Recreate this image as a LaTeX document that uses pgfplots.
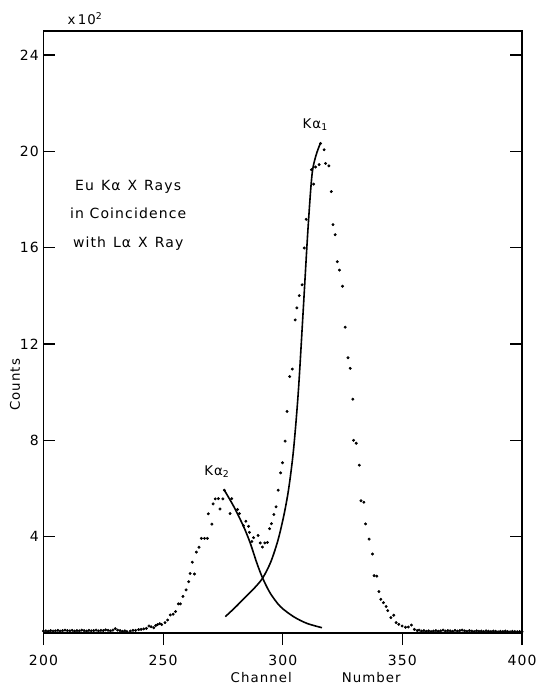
\documentclass[border=0pt]{standalone}
\usepackage{fontspec}
\setmainfont[LetterSpace=8]{DejaVu Sans}
\usepackage{pgfplots}
\pgfplotsset{compat=1.18}

\begin{document}
\begin{tikzpicture}
\useasboundingbox (-32.6pt,-39pt) rectangle (372.4pt,474.75pt);
\begin{axis}[
  at={(0,0)}, anchor=south west,
  scale only axis,
  width=358.9pt, height=451.5pt,
  xmin=200, xmax=400, ymin=0, ymax=25,
  xtick={200,250,...,400},
  ytick={4,8,...,24},
  xtick pos=bottom, ytick pos=both,
  xtick align=outside, ytick align=inside,
  major tick length=9pt,
  minor tick num=0,
  axis line style={line width=0.9pt},
  every tick/.style={black,line width=0.9pt},
  tick label style={font=\fontsize{10.5}{12}\selectfont},
  xticklabel style={yshift=-4pt},
  /pgf/number format/assume math mode=true,
  /pgf/number format/1000 sep={},
  clip=false,
]

% measured counts, x10^2
\addplot[only marks, mark=*, mark size=0.9pt, black] coordinates {
(200,0.08) (201,0.09) (202,0.07) (203,0.10) (204,0.08) (205,0.09) (206,0.11)
(207,0.08) (208,0.10) (209,0.12) (210,0.10) (211,0.09) (212,0.11) (213,0.08)
(214,0.10) (215,0.09) (216,0.12) (217,0.10) (218,0.08) (219,0.11) (220,0.09)
(221,0.10) (222,0.12) (223,0.09) (224,0.11) (225,0.10) (226,0.13) (227,0.11)
(228,0.09) (229,0.12) (230,0.18) (231,0.12) (232,0.10) (233,0.07) (234,0.09)
(234.9,0.06) (236.3,0.08) (237.4,0.11) (238.5,0.11) (239.8,0.14) (240.8,0.15)
(241.9,0.17) (243.0,0.19) (244.1,0.29) (245.0,0.26) (246.1,0.22) (246.9,0.31)
(247.7,0.35) (248.6,0.39) (249.4,0.35) (250.8,0.43) (251.9,0.54) (253.0,0.75)
(254.2,0.78) (255.2,0.89) (256.4,1.21) (257.2,1.21) (258.3,1.52) (259.6,1.79)
(260.7,2.13) (261.3,2.47) (262.2,2.94) (263.1,2.45) (263.9,3.36) (265.0,3.56)
(266.0,3.93) (267.3,3.93) (268.5,3.93) (268.9,4.95) (270.4,4.52) (270.9,5.36)
(271.8,5.57) (273.1,5.58) (273.8,5.15) (275.0,5.57) (275.6,5.93) (278.0,4.96)
(278.7,5.58) (281.1,5.13) (281.9,4.96) (283.6,4.46) (284.6,4.64) (285.7,4.43)
(286.1,4.18) (287.1,3.80) (287.8,3.96) (289.7,4.05) (290.6,3.74) (291.5,3.57)
(292.5,3.74) (293.6,3.76) (294.5,4.33) (295.3,4.54) (296.3,4.92) (297.2,5.24)
(298.1,5.93) (299.1,6.65) (299.9,7.07) (301.0,7.97) (301.8,9.20) (302.9,10.65)
(304.0,10.96) (305.2,13.00) (305.9,13.50) (306.9,14.01) (308.1,14.46)
(309.0,15.99) (309.8,17.18) (312.0,19.24) (312.9,18.64) (313.7,19.35)
(315.2,19.45) (315.8,20.33) (317.3,20.07) (317.9,19.50) (319.3,19.40)
(320.3,18.33) (321.0,16.96) (321.9,16.54) (322.8,15.42) (323.7,15.07)
(325.0,14.40) (326.1,12.70) (327.3,11.43) (328.2,10.99) (329.3,9.71)
(329.6,8.00) (330.7,7.88) (332.0,6.97) (332.7,5.49) (333.9,5.43) (334.6,4.53)
(336.1,3.90) (337.5,3.28) (338.2,2.38) (339.3,2.36) (340.2,1.72) (341.0,1.40)
(342.1,1.26) (343.2,1.10) (343.9,0.93) (345.2,0.64) (346.4,0.74) (347.4,0.43)
(348.5,0.36) (349.9,0.29) (351.3,0.24) (352.5,0.25) (353.8,0.33) (355.0,0.15)
(356.2,0.10) (357,0.12) (358,0.08) (359,0.10) (360,0.07) (361,0.09) (362,0.06)
(363,0.08) (364,0.10) (365,0.07) (366,0.09) (367,0.12) (368,0.08) (369,0.10)
(370,0.09) (371,0.07) (372,0.11) (373,0.08) (374,0.10) (375,0.12) (376,0.09)
(377,0.07) (378,0.10) (379,0.08) (380,0.06) (381,0.09) (382,0.07) (383,0.08)
(384,0.06) (385,0.09) (386,0.07) (387,0.06) (388,0.08) (389,0.07) (390,0.05)
(391,0.07) (392,0.06) (393,0.08) (394,0.06) (395,0.05) (396,0.07) (397,0.06)
(398,0.05) (399,0.06) (400,0.05)
};

% K alpha 2 component
\addplot[black, line width=1.2pt, smooth, tension=0.5] coordinates {
(275.6,5.93) (279.5,5.26) (283.6,4.43) (286.4,3.74) (289.2,2.90) (291.6,2.28)
(294.8,1.65) (299.0,1.10) (304.5,0.68) (310.1,0.40) (316.4,0.22)
};

% K alpha 1 component
\addplot[black, line width=1.2pt, smooth, tension=0.5] coordinates {
(276.0,0.68) (280.0,1.05) (284.0,1.45) (288.0,1.85) (291.6,2.28) (295.0,2.95)
(298.0,3.85) (300.5,4.90) (302.5,6.00) (304.5,7.60) (306.5,10.00)
(308.5,13.30) (310.5,16.70) (312.2,19.00) (313.8,19.80) (315.7,20.33)
};

\node[font=\fontsize{10}{12}\selectfont] at (axis cs:313.6,21.1) {Kα\textsubscript{1}};
\node[font=\fontsize{10}{12}\selectfont] at (axis cs:272.5,6.7) {Kα\textsubscript{2}};

\node[align=center, font=\fontsize{10.5}{21.4}\selectfont] at (axis cs:235.4,17.35)
  {Eu\hspace{0.5em}Kα\hspace{0.5em}X\hspace{0.5em}Rays\\in\hspace{0.4em}Coincidence\\with\hspace{0.5em}Lα\hspace{0.5em}X\hspace{0.5em}Ray};

\node[font=\fontsize{10}{12}\selectfont] at (axis cs:217.4,25.5) {x\,10\textsuperscript{2}};
\node[rotate=90, font=\fontsize{10}{12}\selectfont] at (axis cs:188.1,10.3) {Counts};
\node[font=\fontsize{10}{12}\selectfont] at (axis cs:291,-1.83) {Channel};
\node[font=\fontsize{10}{12}\selectfont] at (axis cs:337,-1.83) {Number};
\end{axis}
\end{tikzpicture}
\end{document}
